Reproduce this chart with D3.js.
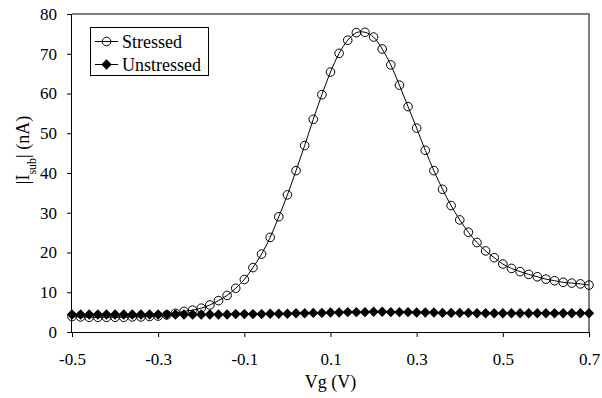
<!DOCTYPE html>
<html><head><meta charset="utf-8">
<script src="https://cdn.jsdelivr.net/npm/d3@7"></script>
<style>body{margin:0;background:#fff}svg{display:block}text{font-family:"Liberation Serif","Times New Roman",Tinos,"DejaVu Serif",serif;fill:#000}</style>
</head><body><svg id="c" width="602" height="398"></svg>
<script>
const vg = d3.range(61).map(i => +(-0.5 + i * 0.02).toFixed(2));
const stressed = [3.9,3.8,3.7,3.7,3.7,3.7,3.7,3.8,3.8,3.9,4.0,4.3,4.7,5.2,5.5,6.0,6.8,7.9,9.2,11.0,13.2,16.2,19.6,23.8,29.0,34.5,40.6,46.9,53.5,59.7,65.4,70.1,73.4,75.3,75.4,74.2,71.2,67.2,62.1,56.7,51.3,45.7,40.6,35.9,31.8,28.2,25.1,22.5,20.4,18.7,17.1,16.0,15.2,14.5,13.9,13.3,12.9,12.5,12.3,12.1,11.8];
const unstressed = [4.4,4.4,4.4,4.4,4.4,4.4,4.4,4.4,4.4,4.4,4.4,4.4,4.4,4.4,4.4,4.4,4.4,4.4,4.4,4.5,4.5,4.5,4.5,4.6,4.6,4.6,4.7,4.7,4.8,4.8,4.9,4.9,5.0,5.0,5.0,5.1,5.1,5.0,5.0,5.0,4.9,4.9,4.9,4.8,4.8,4.8,4.8,4.7,4.7,4.7,4.7,4.7,4.7,4.7,4.7,4.7,4.7,4.7,4.7,4.7,4.7];
const xTicks = [-0.5,-0.3,-0.1,0.1,0.3,0.5,0.7];
const yTicks = [0,10,20,30,40,50,60,70,80];
const seriesNames = ["Stressed","Unstressed"];

const FONT = '"Liberation Serif","Times New Roman",Tinos,"DejaVu Serif",serif';
const svg = d3.select("#c");
const L = 72, R = 589, T = 14, B = 332;
const x = d3.scaleLinear().domain([-0.5,0.7]).range([L,R]);
const y = d3.scaleLinear().domain([0,80]).range([B,T]);

// frame
svg.append("path").attr("d",`M${L},${T}H${R}V${B}`).attr("fill","none").attr("stroke","#555").attr("stroke-width",1.5);

const gx = svg.append("g").attr("transform",`translate(0,${B})`)
  .call(d3.axisBottom(x).tickValues(xTicks).tickSize(5).tickPadding(16).tickFormat(d => d3.format(".1f")(d).replace("\u2212","-")));
const gy = svg.append("g").attr("transform",`translate(${L},0)`)
  .call(d3.axisLeft(y).tickValues(yTicks).tickSize(5).tickPadding(10));
[gx,gy].forEach(g => {
  g.attr("font-family", FONT);
  g.selectAll("path,line").attr("stroke","#000").attr("stroke-width",1);
  g.selectAll("text").style("font-family",FONT).style("font-size","17px").attr("fill","#000");
});
gx.select(".domain").attr("d",`M${L},0.5H${R}`);
gy.select(".domain").attr("d",`M-0.5,${B}V${T}`);

const pts1 = vg.map((v,i) => [v, stressed[i]]);
const pts2 = vg.map((v,i) => [v, unstressed[i]]);
const line = d3.line().x(d => x(d[0])).y(d => y(d[1])).curve(d3.curveCatmullRom);
svg.append("path").datum(pts1).attr("d",line).attr("fill","none").attr("stroke","#000").attr("stroke-width",1);
svg.append("path").datum(pts2).attr("d",line).attr("fill","none").attr("stroke","#000").attr("stroke-width",1);

const diamond = "M0,-5.2L5.2,0L0,5.2L-5.2,0Z";
svg.append("g").selectAll("path").data(pts2).join("path")
  .attr("transform", d => `translate(${x(d[0])},${y(d[1])})`).attr("d", diamond).attr("fill","#000");
svg.append("g").selectAll("circle").data(pts1).join("circle")
  .attr("cx", d => x(d[0])).attr("cy", d => y(d[1])).attr("r",4.3)
  .attr("fill","none").attr("stroke","#000").attr("stroke-width",1);

// axis titles
svg.append("text").attr("x",(L+R)/2).attr("y",388).attr("text-anchor","middle").style("font-size","18px").text("Vg (V)");
const yl = svg.append("text").attr("transform","translate(29,150) rotate(-90)").attr("text-anchor","middle").style("font-size","18px");
yl.append("tspan").text("|I");
yl.append("tspan").attr("baseline-shift","sub").style("font-size","12px").text("sub");
yl.append("tspan").text("| (nA)");

// legend
const lg = svg.append("g");
lg.append("rect").attr("x",90.5).attr("y",27.5).attr("width",118).attr("height",48).attr("fill","#fff").attr("stroke","#000").attr("stroke-width",1);
const ly = [41.5, 64.5];
seriesNames.forEach((n,i) => {
  lg.append("line").attr("x1",95).attr("x2",118).attr("y1",ly[i]).attr("y2",ly[i]).attr("stroke","#000");
  if (i === 0) lg.append("circle").attr("cx",106.5).attr("cy",ly[i]).attr("r",4.3).attr("fill","none").attr("stroke","#000");
  else lg.append("path").attr("transform",`translate(106.5,${ly[i]})`).attr("d",diamond).attr("fill","#000");
  lg.append("text").attr("x",122).attr("y",ly[i]+6).style("font-size","18px").text(n);
});
</script></body></html>
